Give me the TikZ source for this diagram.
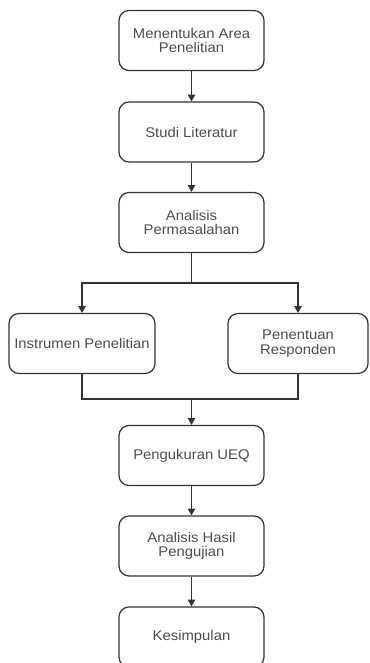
\documentclass[tikz,border=0pt]{standalone}
\usepackage{fontspec}
\setmainfont[FakeStretch=1.06]{Liberation Sans}
\usetikzlibrary{arrows.meta}

\definecolor{linegray}{HTML}{333333}
\definecolor{textgray}{HTML}{4D4D4D}

\tikzset{
  stepbox/.style={draw=linegray, line width=0.9pt, rounded corners=7.5pt, fill=white,
    minimum width=108.75pt, minimum height=45pt, align=center, inner sep=2pt,
    text=textgray, font=\fontsize{10.5pt}{11pt}\selectfont},
  flow/.style={draw=linegray, line width=0.9pt, -{Triangle[length=5pt,width=5.5pt]}},
  link/.style={draw=linegray, line width=0.9pt}
}

\begin{document}
\begin{tikzpicture}[x=0.75pt,y=0.75pt,yscale=-1,xscale=1]
\useasboundingbox (0,0) rectangle (369,663);

% Text Node
\node [stepbox] (area) at (191.5,40.5) {Menentukan Area\\Penelitian};
% Text Node
\node [stepbox] (studi) at (191.5,132) {Studi Literatur};
% Text Node
\node [stepbox] (analisis) at (191.5,222.5) {Analisis\\Permasalahan};
% Text Node
\node [stepbox, minimum width=109.5pt] (instrumen) at (82,343.5) {Instrumen Penelitian};
% Text Node
\node [stepbox, minimum width=105pt] (responden) at (298,343.5) {Penentuan\\Responden};
% Text Node
\node [stepbox] (ueq) at (191.5,455.5) {Pengukuran UEQ};
% Text Node
\node [stepbox] (hasil) at (191.5,546) {Analisis Hasil\\Pengujian};
% Text Node
\node [stepbox] (kesimpulan) at (191.5,637) {Kesimpulan};

\coordinate (split) at (191.5,283);
\coordinate (join) at (191.5,399);

%Straight Lines
\draw [flow] (area) -- (studi);
\draw [flow] (studi) -- (analisis);
\draw [link] (analisis) -- (split);
\draw [flow] (split) -| (instrumen.north);
\draw [flow] (split) -| (responden.north);
\draw [link] (instrumen) |- (join);
\draw [link] (responden) |- (join);
\draw [flow] (join) -- (ueq);
\draw [flow] (ueq) -- (hasil);
\draw [flow] (hasil) -- (kesimpulan);

\end{tikzpicture}
\end{document}
